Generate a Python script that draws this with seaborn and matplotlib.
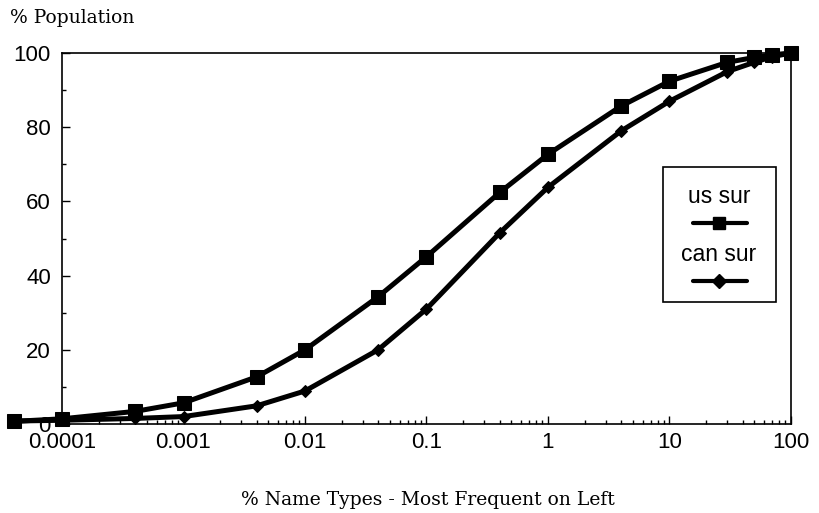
import pandas as pd
import numpy as np
import matplotlib
matplotlib.use("Agg")
import matplotlib.pyplot as plt
import seaborn as sns
from matplotlib.lines import Line2D
from matplotlib.patches import Rectangle
from matplotlib.ticker import LogLocator, MultipleLocator, NullFormatter

# --------------------------------------------------
# data
# --------------------------------------------------
name_types = [0.00004, 0.0001, 0.0004, 0.001, 0.004, 0.01, 0.04, 0.1, 0.4,
              1, 4, 10, 30, 50, 70, 100]
us_sur = [0.7, 1.4, 3.4, 5.7, 12.7, 20.0, 34.3, 45.1, 62.4,
          72.7, 85.7, 92.4, 97.5, 98.8, 99.5, 100]
can_sur = [0.8, 1.0, 1.5, 2.0, 4.9, 8.9, 20.0, 31.0, 51.5,
           63.8, 79.0, 87.0, 95.0, 97.5, 99.0, 100]

x_tick_vals = [0.0001, 0.001, 0.01, 0.1, 1, 10, 100]
x_tick_labels = ["0.0001", "0.001", "0.01", "0.1", "1", "10", "100"]
y_tick_vals = [0, 20, 40, 60, 80, 100]

df = pd.DataFrame({
    "x": name_types * 2,
    "y": us_sur + can_sur,
    "series": ["us sur"] * len(us_sur) + ["can sur"] * len(can_sur),
})

# --------------------------------------------------
# style
# --------------------------------------------------
sns.set_style("ticks")
plt.rcParams["font.family"] = ["Liberation Sans", "DejaVu Sans"]
plt.rcParams["text.color"] = "black"

fig = plt.figure(figsize=(8.19, 5.13), dpi=100)
ax = fig.add_axes([62 / 819, 1 - 424 / 513, 729 / 819, 371 / 513])

# --------------------------------------------------
# lines
# --------------------------------------------------
sns.lineplot(data=df[df.series == "us sur"], x="x", y="y", ax=ax,
             color="black", lw=3.6, marker="s", markersize=10,
             markeredgecolor="black", clip_on=False, legend=False)
sns.lineplot(data=df[df.series == "can sur"], x="x", y="y", ax=ax,
             color="black", lw=3.6, marker="D", markersize=6.5,
             markeredgecolor="black", clip_on=False, legend=False)

ax.set_xscale("log")
ax.set_xlim(0.0001, 100)
ax.set_ylim(0, 100)

ax.set_xticks(x_tick_vals)
ax.set_xticklabels(x_tick_labels)
ax.xaxis.set_minor_locator(LogLocator(base=10, subs=np.arange(2, 10)))
ax.xaxis.set_minor_formatter(NullFormatter())
ax.set_yticks(y_tick_vals)
ax.yaxis.set_minor_locator(MultipleLocator(10))

ax.tick_params(which="both", direction="in", color="black", width=1,
               labelcolor="black")
ax.tick_params(which="major", length=6, labelsize=16)
ax.tick_params(which="minor", length=3)
ax.tick_params(axis="y", pad=8)
ax.tick_params(axis="x", pad=6)

for s in ax.spines.values():
    s.set_visible(True)
    s.set_color("black")
    s.set_linewidth(1.2)

ax.set_xlabel("")
ax.set_ylabel("")

fig.text(10 / 819, 1 - 18 / 513, "% Population", family="DejaVu Serif",
         fontsize=13.5, va="center", ha="left", color="black")
fig.text(428 / 819, 1 - 500 / 513, "% Name Types - Most Frequent on Left",
         family="DejaVu Serif", fontsize=13.5, va="center", ha="center",
         color="black")

# --------------------------------------------------
# legend box drawn by hand (label above its sample line)
# --------------------------------------------------
ax.add_patch(Rectangle((0.824, 0.329), 0.155, 0.364, transform=ax.transAxes,
                       facecolor="white", edgecolor="black", lw=1.2, zorder=5))
ax.text(0.9013, 0.612, "us sur", transform=ax.transAxes, ha="center",
        va="center", fontsize=16.5, color="black", zorder=6)
ax.add_line(Line2D([0.866, 0.901, 0.940], [0.542, 0.542, 0.542],
                   transform=ax.transAxes, color="black", lw=3,
                   marker="s", markevery=[1], markersize=9, zorder=6))
ax.text(0.9013, 0.456, "can sur", transform=ax.transAxes, ha="center",
        va="center", fontsize=16.5, color="black", zorder=6)
ax.add_line(Line2D([0.866, 0.901, 0.940], [0.385, 0.385, 0.385],
                   transform=ax.transAxes, color="black", lw=3,
                   marker="D", markevery=[1], markersize=7, zorder=6))

fig.savefig("out.png", dpi=100)
